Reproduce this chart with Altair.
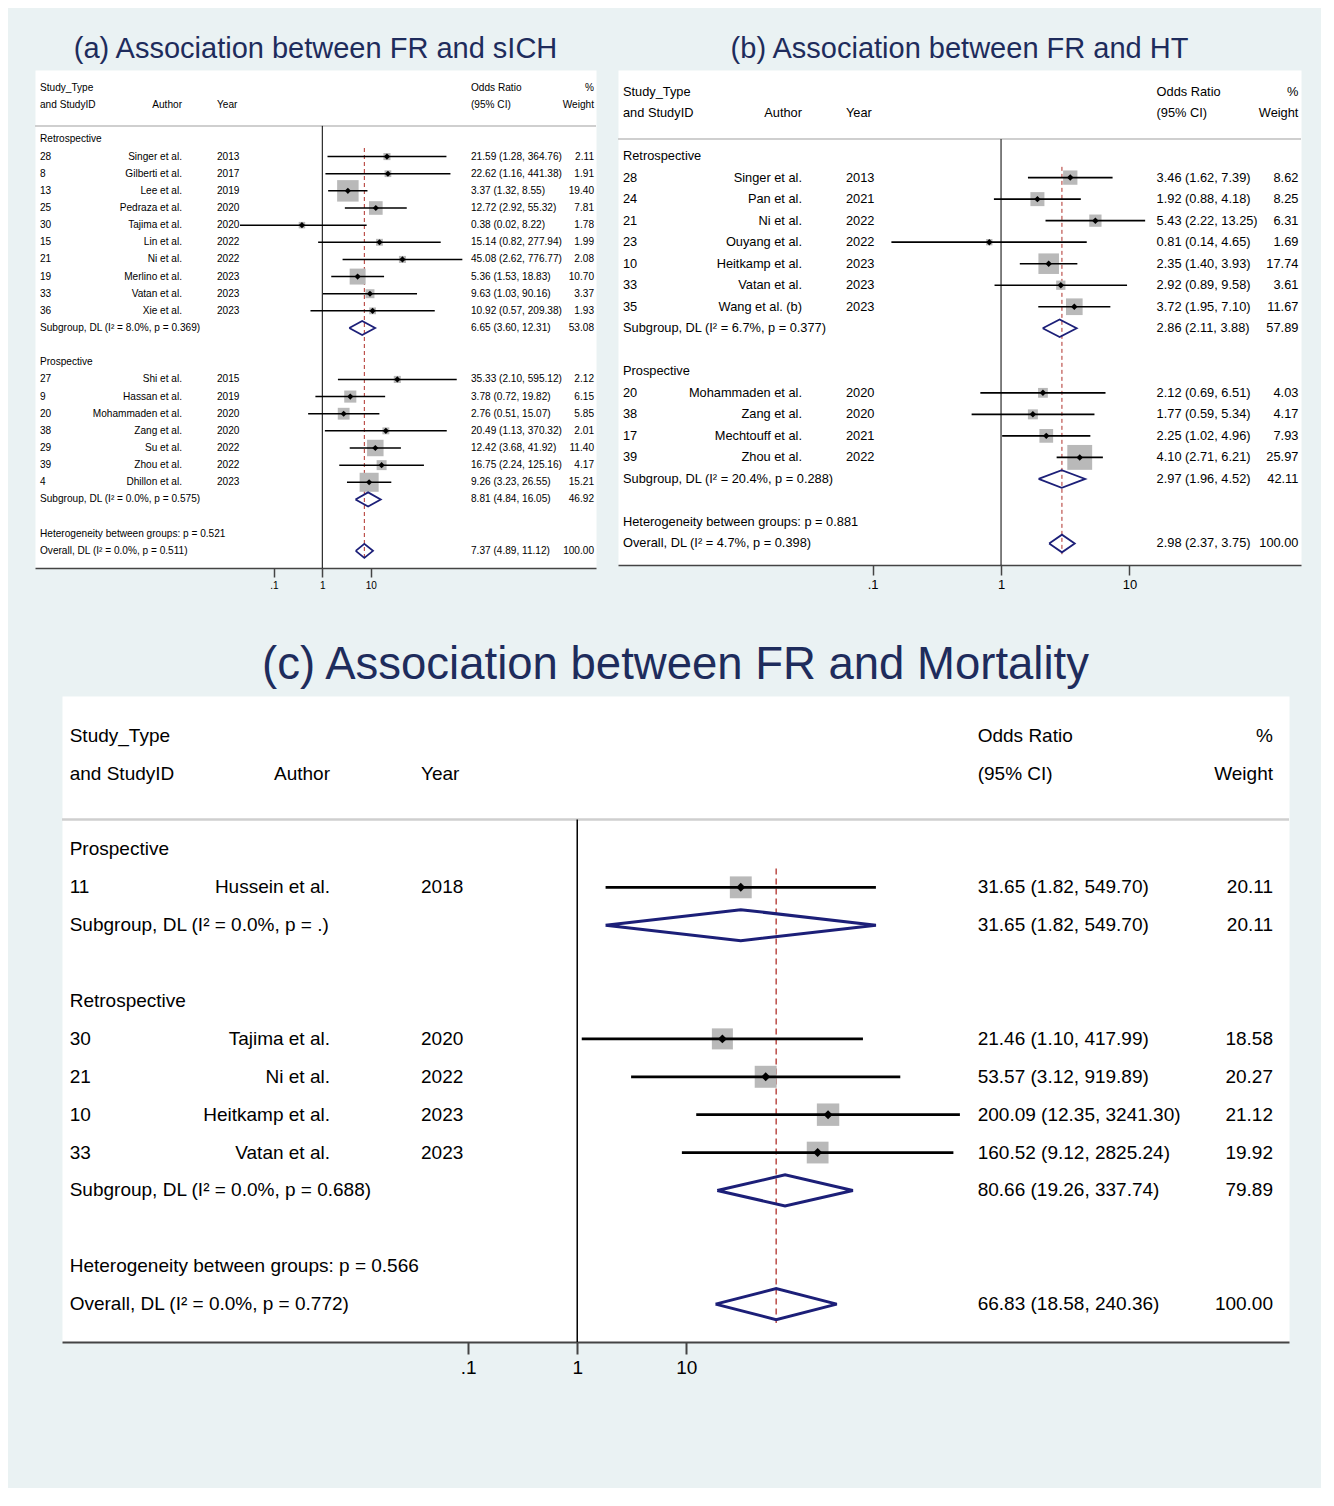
import altair as alt
import pandas as pd

FONT = "Liberation Sans"
BG = "#EAF2F3"
TITLE_COLOR = "#1e2c5c"
NAVY = "#1c1f78"
RED = "#b0302a"
BOX = "#b9b9b9"
SEP = "#cfcfcf"
AXC = "#444444"

# shared header texts and tick labels
hdr_left = ["Study_Type", "and StudyID"]
hdr_author = "Author"
hdr_year = "Year"
hdr_ci = ["Odds Ratio", "(95% CI)"]
hdr_wt = ["%", "Weight"]
tick_values = [0.1, 1, 10]
tick_labels = [".1", "1", "10"]

# ---------------- Panel (a): sICH ----------------
a_title = "(a) Association between FR and sICH"
a_groups = ["Retrospective", "Prospective"]
a_ids = [[28, 8, 13, 25, 30, 15, 21, 19, 33, 36],
         [27, 9, 20, 38, 29, 39, 4]]
a_authors = [["Singer et al.", "Gilberti et al.", "Lee et al.", "Pedraza et al.", "Tajima et al.",
              "Lin et al.", "Ni et al.", "Merlino et al.", "Vatan et al.", "Xie et al."],
             ["Shi et al.", "Hassan et al.", "Mohammaden et al.", "Zang et al.", "Su et al.",
              "Zhou et al.", "Dhillon et al."]]
a_years = [[2013, 2017, 2019, 2020, 2020, 2022, 2022, 2023, 2023, 2023],
           [2015, 2019, 2020, 2020, 2022, 2022, 2023]]
a_or = [[21.59, 22.62, 3.37, 12.72, 0.38, 15.14, 45.08, 5.36, 9.63, 10.92],
        [35.33, 3.78, 2.76, 20.49, 12.42, 16.75, 9.26]]
a_lo = [[1.28, 1.16, 1.32, 2.92, 0.02, 0.82, 2.62, 1.53, 1.03, 0.57],
        [2.10, 0.72, 0.51, 1.13, 3.68, 2.24, 3.23]]
a_hi = [[364.76, 441.38, 8.55, 55.32, 8.22, 277.94, 776.77, 18.83, 90.16, 209.38],
        [595.12, 19.82, 15.07, 370.32, 41.92, 125.16, 26.55]]
a_wt = [[2.11, 1.91, 19.40, 7.81, 1.78, 1.99, 2.08, 10.70, 3.37, 1.93],
        [2.12, 6.15, 5.85, 2.01, 11.40, 4.17, 15.21]]
a_sub_labels = ["Subgroup, DL (I² = 8.0%, p = 0.369)", "Subgroup, DL (I² = 0.0%, p = 0.575)"]
a_sub_or = [6.65, 8.81]
a_sub_lo = [3.60, 4.84]
a_sub_hi = [12.31, 16.05]
a_sub_wt = [53.08, 46.92]
a_het = "Heterogeneity between groups: p = 0.521"
a_all_label = "Overall, DL (I² = 0.0%, p = 0.511)"
a_all = [7.37, 4.89, 11.12, 100.00]

# ---------------- Panel (b): HT ----------------
b_title = "(b) Association between FR and HT"
b_groups = ["Retrospective", "Prospective"]
b_ids = [[28, 24, 21, 23, 10, 33, 35], [20, 38, 17, 39]]
b_authors = [["Singer et al.", "Pan et al.", "Ni et al.", "Ouyang et al.", "Heitkamp et al.",
              "Vatan et al.", "Wang et al. (b)"],
             ["Mohammaden et al.", "Zang et al.", "Mechtouff et al.", "Zhou et al."]]
b_years = [[2013, 2021, 2022, 2022, 2023, 2023, 2023], [2020, 2020, 2021, 2022]]
b_or = [[3.46, 1.92, 5.43, 0.81, 2.35, 2.92, 3.72], [2.12, 1.77, 2.25, 4.10]]
b_lo = [[1.62, 0.88, 2.22, 0.14, 1.40, 0.89, 1.95], [0.69, 0.59, 1.02, 2.71]]
b_hi = [[7.39, 4.18, 13.25, 4.65, 3.93, 9.58, 7.10], [6.51, 5.34, 4.96, 6.21]]
b_wt = [[8.62, 8.25, 6.31, 1.69, 17.74, 3.61, 11.67], [4.03, 4.17, 7.93, 25.97]]
b_sub_labels = ["Subgroup, DL (I² = 6.7%, p = 0.377)", "Subgroup, DL (I² = 20.4%, p = 0.288)"]
b_sub_or = [2.86, 2.97]
b_sub_lo = [2.11, 1.96]
b_sub_hi = [3.88, 4.52]
b_sub_wt = [57.89, 42.11]
b_het = "Heterogeneity between groups: p = 0.881"
b_all_label = "Overall, DL (I² = 4.7%, p = 0.398)"
b_all = [2.98, 2.37, 3.75, 100.00]

# ---------------- Panel (c): Mortality ----------------
c_title = "(c) Association between FR and Mortality"
c_groups = ["Prospective", "Retrospective"]
c_ids = [[11], [30, 21, 10, 33]]
c_authors = [["Hussein et al."], ["Tajima et al.", "Ni et al.", "Heitkamp et al.", "Vatan et al."]]
c_years = [[2018], [2020, 2022, 2023, 2023]]
c_or = [[31.65], [21.46, 53.57, 200.09, 160.52]]
c_lo = [[1.82], [1.10, 3.12, 12.35, 9.12]]
c_hi = [[549.70], [417.99, 919.89, 3241.30, 2825.24]]
c_wt = [[20.11], [18.58, 20.27, 21.12, 19.92]]
c_sub_labels = ["Subgroup, DL (I² = 0.0%, p = .)", "Subgroup, DL (I² = 0.0%, p = 0.688)"]
c_sub_or = [31.65, 80.66]
c_sub_lo = [1.82, 19.26]
c_sub_hi = [549.70, 337.74]
c_sub_wt = [20.11, 79.89]
c_het = "Heterogeneity between groups: p = 0.566"
c_all_label = "Overall, DL (I² = 0.0%, p = 0.772)"
c_all = [66.83, 18.58, 240.36, 100.00]


def fmt_ci(o, l, h):
    return f"{o:.2f} ({l:.2f}, {h:.2f})"


def label_expr():
    expr = f"'{tick_labels[-1]}'"
    for v, lab in reversed(list(zip(tick_values[:-1], tick_labels[:-1]))):
        expr = f"(datum.value < {v * 1.5} ? '{lab}' : {expr})"
    return expr


def make_panel(P, G):
    studies, summ, texts = [], [], []
    texts += [dict(row=-3, col="left", text=hdr_left[0]), dict(row=-2, col="left", text=hdr_left[1]),
              dict(row=-2, col="author", text=hdr_author), dict(row=-2, col="year", text=hdr_year),
              dict(row=-3, col="ci", text=hdr_ci[0]), dict(row=-2, col="ci", text=hdr_ci[1]),
              dict(row=-3, col="wt", text=hdr_wt[0]), dict(row=-2, col="wt", text=hdr_wt[1])]
    r = 0
    for gi, gname in enumerate(P["groups"]):
        texts.append(dict(row=r, col="left", text=gname))
        r += 1
        for k in range(len(P["ids"][gi])):
            o, l, h, w = P["or"][gi][k], P["lo"][gi][k], P["hi"][gi][k], P["wt"][gi][k]
            studies.append(dict(row=r, est=o, lo=l, hi=h, w=w))
            texts += [dict(row=r, col="left", text=str(P["ids"][gi][k])),
                      dict(row=r, col="author", text=P["authors"][gi][k]),
                      dict(row=r, col="year", text=str(P["years"][gi][k])),
                      dict(row=r, col="ci", text=fmt_ci(o, l, h)),
                      dict(row=r, col="wt", text=f"{w:.2f}")]
            r += 1
        so, sl, sh, sw = P["sub_or"][gi], P["sub_lo"][gi], P["sub_hi"][gi], P["sub_wt"][gi]
        summ.append(dict(row=r, est=so, lo=sl, hi=sh))
        texts += [dict(row=r, col="left", text=P["sub_labels"][gi]),
                  dict(row=r, col="ci", text=fmt_ci(so, sl, sh)),
                  dict(row=r, col="wt", text=f"{sw:.2f}")]
        r += 2
    texts.append(dict(row=r, col="left", text=P["het"]))
    r += 1
    ao, al, ah, aw = P["all"]
    summ.append(dict(row=r, est=ao, lo=al, hi=ah))
    texts += [dict(row=r, col="left", text=P["all_label"]),
              dict(row=r, col="ci", text=fmt_ci(ao, al, ah)),
              dict(row=r, col="wt", text=f"{aw:.2f}")]
    last = r

    hh = 0.41
    verts = []
    for j, s in enumerate(summ):
        pts = [(s["lo"], s["row"]), (s["est"], s["row"] - hh), (s["hi"], s["row"]),
               (s["est"], s["row"] + hh), (s["lo"], s["row"])]
        for k, (x, y) in enumerate(pts):
            verts.append(dict(d=j, k=k, x=x, y=y))

    df_st = pd.DataFrame(studies)
    df_tx = pd.DataFrame(texts)
    df_dv = pd.DataFrame(verts)
    df_sep = pd.DataFrame({"y": [-0.79]})
    df_null = pd.DataFrame({"x": [1.0], "y1": [-0.79], "y2": [last + 1]})
    df_dash = pd.DataFrame({"x": [ao], "y1": [0.5], "y2": [last + 0.5]})

    yscale = alt.Scale(domain=[G["top"], last + 1], reverse=True, nice=False, zero=False)
    xscale = alt.Scale(type="log", domain=[10 ** G["xlo"], 10 ** G["xhi"]], nice=False)
    axis = alt.Axis(values=tick_values, labelExpr=label_expr(), title=None, grid=False,
                    domainColor=AXC, domainWidth=G["axw"], tickColor=AXC, tickWidth=G["axw"],
                    tickSize=G["tick"], labelFontSize=G["lfs"], labelFont=FONT, labelColor="black",
                    labelPadding=G["lpad"], labelFlush=False, orient="bottom")

    def Y(f):
        return alt.Y(f"{f}:Q", scale=yscale, axis=None, title=None)

    def X(f):
        return alt.X(f"{f}:Q", scale=xscale, axis=axis, title=None)

    sep = alt.Chart(df_sep).mark_rule(color=SEP, strokeWidth=G["sepw"]).encode(y=Y("y"))
    null = alt.Chart(df_null).mark_rule(color="black", strokeWidth=G["nullw"]).encode(
        x=X("x"), y=Y("y1"), y2="y2:Q")
    dash = alt.Chart(df_dash).mark_rule(color=RED, strokeWidth=G["dashw"], strokeDash=G["dash"]).encode(
        x=X("x"), y=Y("y1"), y2="y2:Q")
    sq = alt.Chart(df_st).mark_square(color=BOX, opacity=1, filled=True).encode(
        x=X("est"), y=Y("row"),
        size=alt.Size("w:Q", scale=alt.Scale(type="linear", domain=[0, 100], range=[0, G["boxk"] * 100]),
                      legend=None))
    ci = alt.Chart(df_st).mark_rule(color="black", strokeWidth=G["ciw"]).encode(
        x=X("lo"), x2="hi:Q", y=Y("row"))
    pt = alt.Chart(df_st).mark_point(shape="diamond", filled=True, color="black", opacity=1,
                                     size=G["pt"]).encode(x=X("est"), y=Y("row"))
    dia = alt.Chart(df_dv).mark_line(color=NAVY, strokeWidth=G["diaw"], strokeJoin="miter").encode(
        x=X("x"), y=Y("y"), order="k:Q", detail="d:N")

    txt_layers = []
    for col, (px, align) in G["cols"].items():
        txt_layers.append(
            alt.Chart(df_tx).transform_filter(alt.datum.col == col).mark_text(
                align=align, baseline="middle", font=FONT, fontSize=G["fs"], color="black"
            ).encode(x=alt.value(px), y=Y("row"), text="text:N"))

    title = alt.TitleParams(text=P["title"], fontSize=G["tfs"], font=FONT, color=TITLE_COLOR,
                            fontWeight="normal", anchor="middle", offset=G["toff"])
    return alt.layer(sep, null, dash, sq, ci, pt, dia, *txt_layers).properties(
        width=G["w"], height=G["h"], title=title,
        view=alt.ViewBackground(fill="white", stroke="transparent"))


PA = dict(title=a_title, groups=a_groups, ids=a_ids, authors=a_authors, years=a_years,
          **{"or": a_or}, lo=a_lo, hi=a_hi, wt=a_wt, sub_labels=a_sub_labels, sub_or=a_sub_or,
          sub_lo=a_sub_lo, sub_hi=a_sub_hi, sub_wt=a_sub_wt, het=a_het, all_label=a_all_label, all=a_all)
PB = dict(title=b_title, groups=b_groups, ids=b_ids, authors=b_authors, years=b_years,
          **{"or": b_or}, lo=b_lo, hi=b_hi, wt=b_wt, sub_labels=b_sub_labels, sub_or=b_sub_or,
          sub_lo=b_sub_lo, sub_hi=b_sub_hi, sub_wt=b_sub_wt, het=b_het, all_label=b_all_label, all=b_all)
PC = dict(title=c_title, groups=c_groups, ids=c_ids, authors=c_authors, years=c_years,
          **{"or": c_or}, lo=c_lo, hi=c_hi, wt=c_wt, sub_labels=c_sub_labels, sub_or=c_sub_or,
          sub_lo=c_sub_lo, sub_hi=c_sub_hi, sub_wt=c_sub_wt, het=c_het, all_label=c_all_label, all=c_all)

GA = dict(w=561, h=498, top=-4.05, xlo=-5.93, xhi=5.649, fs=10.1, tfs=29, toff=6,
          cols={"left": (5, "left"), "author": (147, "right"), "year": (182, "left"),
                "ci": (436, "left"), "wt": (559, "right")},
          boxk=23.8, pt=38, ciw=1.5, diaw=1.8, nullw=1, dashw=1, dash=[4, 3], sepw=2,
          axw=1.5, tick=9, lfs=10, lpad=3)
GB = dict(w=683, h=495, top=-4.0, xlo=-2.983, xhi=2.336, fs=12.8, tfs=29, toff=6,
          cols={"left": (5, "left"), "author": (184, "right"), "year": (228, "left"),
                "ci": (538.6, "left"), "wt": (680.4, "right")},
          boxk=25.4, pt=42, ciw=1.6, diaw=1.8, nullw=1, dashw=1, dash=[4, 3], sepw=2,
          axw=1.5, tick=10, lfs=13, lpad=3)
GC = dict(w=1227, h=646, top=-4.05, xlo=-4.727, xhi=6.530, fs=19, tfs=45.5, toff=8,
          cols={"left": (7.7, "left"), "author": (268, "right"), "year": (359, "left"),
                "ci": (915.7, "left"), "wt": (1211, "right")},
          boxk=7.2, pt=80, ciw=2.8, diaw=3, nullw=1.5, dashw=1.3, dash=[6, 4], sepw=2.5,
          axw=2, tick=12, lfs=19, lpad=4)

panel_a = make_panel(PA, GA)
panel_b = make_panel(PB, GB)
panel_c = make_panel(PC, GC)

spacer = alt.Chart(pd.DataFrame({"v": [0]})).mark_rect(opacity=0).encode(
    x=alt.value(0), x2=alt.value(24), y=alt.value(0), y2=alt.value(10)).properties(width=24, height=10)

chart = alt.vconcat(
    alt.hconcat(panel_a, panel_b, spacing=18),
    alt.hconcat(spacer, panel_c, spacing=0),
    spacing=50,
).properties(
    padding={"left": 25, "top": 26, "right": 18, "bottom": 110},
    background=BG,
).configure_view(stroke="transparent")

chart.save("out.html", embed_options={"renderer": "svg", "actions": False})
